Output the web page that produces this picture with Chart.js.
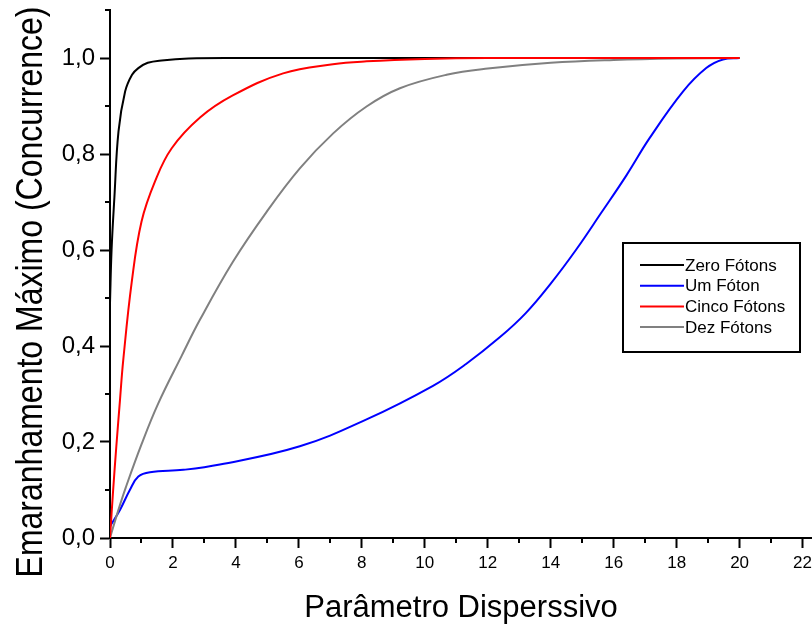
<!DOCTYPE html>
<html>
<head>
<meta charset="utf-8">
<script src="https://cdn.jsdelivr.net/npm/chart.js@4"></script>
<style>
  body { margin: 0; background: #fff; }
  #wrap { width: 812px; height: 624px; position: relative; }
</style>
</head>
<body>
<div id="wrap"><canvas id="myChart"></canvas></div>
<script>
"use strict";

// series
var seriesNames = ['Zero Fótons', 'Um Fóton', 'Cinco Fótons', 'Dez Fótons'];
var seriesColors = ['#000000', '#0000ff', '#ff0000', '#808080'];

var zeroX = [0, 0.05, 0.14, 0.27, 0.48, 0.7, 0.9, 1.2, 1.64, 2.5, 4, 20];
var zeroY = [0.49, 0.60, 0.71, 0.847, 0.93, 0.965, 0.979, 0.99, 0.995, 0.999, 1.0, 1.0];

var umX = [0, 0.32, 0.63, 0.9, 1.27, 2.33, 3.49, 6.03, 8.15, 10.26, 11.3, 12.38, 13.2, 14.0, 14.8, 15.6, 16.4, 17.14, 18.2, 18.94, 19.47, 20];
var umY = [0.024, 0.059, 0.10, 0.128, 0.137, 0.142, 0.153, 0.191, 0.247, 0.317, 0.362, 0.418, 0.468, 0.53, 0.60, 0.677, 0.755, 0.833, 0.93, 0.979, 0.997, 1.0];

var cincoX = [0, 0.1, 0.2, 0.32, 0.42, 0.69, 1.0, 1.43, 1.96, 2.86, 3.9, 5.5, 7.08, 8.15, 10, 12, 20];
var cincoY = [0, 0.10, 0.19, 0.29, 0.37, 0.533, 0.659, 0.743, 0.812, 0.876, 0.922, 0.968, 0.987, 0.993, 0.998, 1.0, 1.0];

var dezX = [0, 0.25, 0.5, 1.0, 1.53, 2.28, 2.86, 3.9, 4.97, 6.03, 7.09, 8.15, 9.21, 10.69, 12, 14, 16, 18, 20];
var dezY = [0, 0.055, 0.105, 0.195, 0.28, 0.38, 0.455, 0.575, 0.679, 0.77, 0.843, 0.899, 0.937, 0.965, 0.978, 0.99, 0.996, 0.999, 1.0];

// ticks
var xMajorTicks = [0, 2, 4, 6, 8, 10, 12, 14, 16, 18, 20, 22];
var xMinorTicks = [1, 3, 5, 7, 9, 11, 13, 15, 17, 19, 21];
var yMajorTicks = [0, 0.2, 0.4, 0.6, 0.8, 1.0];
var yMinorTicks = [0.1, 0.3, 0.5, 0.7, 0.9, 1.1];

var xTitle = 'Parâmetro Disperssivo';
var yTitle = 'Emaranhamento Máximo (Concurrence)';

var plainFont = '"Liberation Sans", Arial, sans-serif';

function toPoints(xs, ys) {
  return xs.map(function (x, i) { return { x: x, y: ys[i] }; });
}

var allSeries = [toPoints(zeroX, zeroY), toPoints(umX, umY), toPoints(cincoX, cincoY), toPoints(dezX, dezY)];

// small ticks between the labelled ones
var minorTicks = {
  id: 'minorTicks',
  afterDraw: function (chart) {
    var c = chart.ctx;
    var xs = chart.scales.x, ys = chart.scales.y;
    var area = chart.chartArea;
    c.save();
    c.strokeStyle = '#000';
    c.lineWidth = 2;
    c.beginPath();
    xMinorTicks.forEach(function (v) {
      var px = Math.round(xs.getPixelForValue(v));
      c.moveTo(px, area.bottom);
      c.lineTo(px, area.bottom + 5);
    });
    yMinorTicks.forEach(function (v) {
      var py = Math.round(ys.getPixelForValue(v));
      c.moveTo(area.left, py);
      c.lineTo(area.left - 5, py);
    });
    c.stroke();
    c.restore();
  }
};

// vertical axis title, drawn by hand so it is not clipped
var yTitlePlugin = {
  id: 'yTitle',
  afterDraw: function (chart) {
    var c = chart.ctx;
    c.save();
    c.translate(42, 292);
    c.rotate(-Math.PI / 2);
    c.scale(1, 1.15);
    c.font = '32px ' + plainFont;
    c.fillStyle = '#000';
    c.textAlign = 'center';
    c.textBaseline = 'alphabetic';
    c.fillText(yTitle, 0, 0);
    c.restore();
  }
};

// boxed legend inside the plot
var boxLegend = {
  id: 'boxLegend',
  afterDraw: function (chart) {
    var c = chart.ctx;
    c.save();
    c.strokeStyle = '#000';
    c.lineWidth = 2;
    c.fillStyle = '#fff';
    c.fillRect(623, 243, 177, 109);
    c.strokeRect(623, 243, 177, 109);
    c.font = '17px ' + plainFont;
    c.textBaseline = 'middle';
    chart.data.datasets.forEach(function (ds, i) {
      var y = 265 + i * 20.7;
      c.strokeStyle = ds.borderColor;
      c.beginPath();
      c.moveTo(640, y);
      c.lineTo(684, y);
      c.stroke();
      c.fillStyle = '#000';
      c.fillText(ds.label, 685, y + 1);
    });
    c.restore();
  }
};

function noPad(scale) {
  scale.paddingTop = 0;
  scale.paddingBottom = 0;
  scale.paddingLeft = 0;
  scale.paddingRight = 0;
}

var ctx = document.getElementById('myChart').getContext('2d');

var chart = new Chart(ctx, {
  type: 'line',
  data: {
    datasets: seriesNames.map(function (name, i) {
      return {
        label: name,
        data: allSeries[i],
        borderColor: seriesColors[i],
        borderWidth: 2,
        pointRadius: 0,
        fill: false,
        tension: 0.4,
        order: [3, 2, 0, 1][i]
      };
    })
  },
  options: {
    responsive: true,
    maintainAspectRatio: false,
    animation: false,
    layout: { padding: { top: 10, right: 0, left: 0, bottom: 0 } },
    plugins: {
      legend: { display: false },
      tooltip: { enabled: false }
    },
    scales: {
      x: {
        type: 'linear',
        min: 0,
        max: 22.3,
        afterBuildTicks: function (scale) {
          scale.ticks = xMajorTicks.map(function (v) { return { value: v }; });
        },
        afterFit: function (scale) { scale.height = 86; noPad(scale); },
        ticks: {
          color: '#000',
          font: { family: plainFont, size: 17 },
          padding: 5,
          maxRotation: 0,
          autoSkip: false
        },
        grid: { drawOnChartArea: false, drawTicks: true, tickLength: 10, tickWidth: 2, tickColor: '#000' },
        border: { display: true, color: '#000', width: 2 },
        title: {
          display: true,
          text: xTitle,
          color: '#000',
          font: { family: plainFont, size: 31, lineHeight: 1 },
          padding: 0
        }
      },
      y: {
        type: 'linear',
        min: 0,
        max: 1.1,
        afterBuildTicks: function (scale) {
          scale.ticks = yMajorTicks.map(function (v) { return { value: v }; });
        },
        afterFit: function (scale) { scale.width = 110; noPad(scale); },
        ticks: {
          color: '#000',
          font: { family: plainFont, size: 24 },
          padding: 5,
          callback: function (v) { return v.toFixed(1).replace('.', ','); }
        },
        grid: { drawOnChartArea: false, drawTicks: true, tickLength: 10, tickWidth: 2, tickColor: '#000' },
        border: { display: true, color: '#000', width: 2 }
      }
    }
  },
  plugins: [minorTicks, yTitlePlugin, boxLegend]
});
</script>
</body>
</html>
